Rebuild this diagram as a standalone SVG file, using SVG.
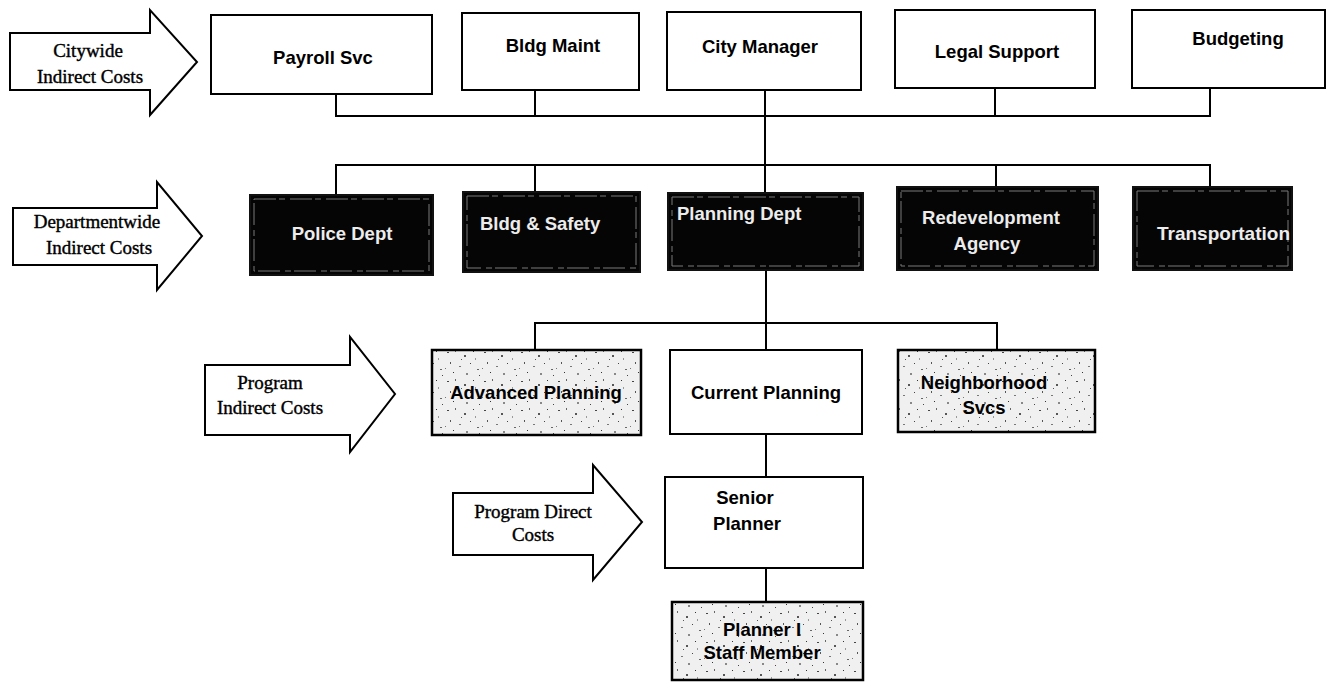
<svg xmlns="http://www.w3.org/2000/svg" width="1335" height="683" viewBox="0 0 1335 683">
<style>
.box{fill:#fff;stroke:#000;stroke-width:2}
.dark{fill:#050505;stroke:#111;stroke-width:2}
.inner{fill:none;stroke:#7a7a7a;stroke-width:1;stroke-dasharray:22 3 6 5}
.spk{fill:url(#speckle);stroke:#000;stroke-width:2.5}
.arrow{fill:#fff;stroke:#000;stroke-width:2}
.lbl{font-family:"Liberation Sans",Arial,sans-serif;font-weight:bold;font-size:18.5px;fill:#000;text-anchor:middle}
.wl{font-family:"Liberation Sans",Arial,sans-serif;font-weight:bold;font-size:18.5px;fill:#ececec}
.al{font-family:"Liberation Serif","Times New Roman",serif;font-size:19px;fill:#000;text-anchor:middle;stroke:#000;stroke-width:0.4}
.conn{fill:none;stroke:#000;stroke-width:2}
</style>
<defs>
<pattern id="speckle" width="37" height="29" patternUnits="userSpaceOnUse">
<rect width="37" height="29" fill="#f0f0f0"/>
<rect x="3" y="4" width="2" height="1" fill="#444"/>
<rect x="11" y="2" width="1" height="2" fill="#666"/>
<rect x="20" y="7" width="2" height="2" fill="#555"/>
<rect x="29" y="3" width="1" height="1" fill="#333"/>
<rect x="6" y="14" width="1" height="2" fill="#555"/>
<rect x="15" y="18" width="2" height="1" fill="#777"/>
<rect x="26" y="15" width="1" height="1" fill="#444"/>
<rect x="33" y="21" width="2" height="1" fill="#666"/>
<rect x="9" y="24" width="1" height="1" fill="#333"/>
<rect x="22" y="25" width="2" height="2" fill="#888"/>
<rect x="31" y="10" width="1" height="2" fill="#999"/>
<rect x="1" y="20" width="1" height="1" fill="#777"/>
<rect x="17" y="11" width="1" height="1" fill="#555"/>
<rect x="35" y="27" width="1" height="1" fill="#444"/>
</pattern>
</defs>

<g id="connectors">
<path class="conn" d="M336,94 V116 H1210 V88"/>
<path class="conn" d="M535,90 V116"/>
<path class="conn" d="M995,88 V116"/>
<path class="conn" d="M765,90 V193"/>
<path class="conn" d="M336,195 V165 H1210 V187"/>
<path class="conn" d="M535,165 V192"/>
<path class="conn" d="M996,165 V187"/>
<path class="conn" d="M766,270 V350"/>
<path class="conn" d="M535,350 V323 H997 V350"/>
<path class="conn" d="M766,435 V477"/>
<path class="conn" d="M766,568 V602"/>
</g>

<g id="arrow-citywide">
<polygon class="arrow" points="10,33 150,33 150,10 197,62 150,115 150,90 10,90"/>
<text class="al" x="88" y="57">Citywide</text>
<text class="al" x="90" y="83">Indirect Costs</text>
</g>
<g id="arrow-departmentwide">
<polygon class="arrow" points="13,208 157,208 157,182 202,236 157,290 157,265 13,265"/>
<text class="al" x="97" y="228">Departmentwide</text>
<text class="al" x="99" y="254">Indirect Costs</text>
</g>
<g id="arrow-program-indirect">
<polygon class="arrow" points="205,365 350,365 350,337 395,394 350,452 350,435 205,435"/>
<text class="al" x="270" y="389">Program</text>
<text class="al" x="270" y="414">Indirect Costs</text>
</g>
<g id="arrow-program-direct">
<polygon class="arrow" points="453,493 593,493 593,465 642,522 593,580 593,555 453,555"/>
<text class="al" x="533" y="518">Program Direct</text>
<text class="al" x="533" y="541">Costs</text>
</g>

<g id="payroll-svc"><rect class="box" x="211" y="15" width="221" height="79"/><text class="lbl" x="323" y="64">Payroll Svc</text></g>
<g id="bldg-maint"><rect class="box" x="462" y="13" width="177" height="77"/><text class="lbl" x="553" y="52">Bldg Maint</text></g>
<g id="city-manager"><rect class="box" x="667" y="12" width="194" height="78"/><text class="lbl" x="760" y="53">City Manager</text></g>
<g id="legal-support"><rect class="box" x="895" y="10" width="200" height="78"/><text class="lbl" x="997" y="58">Legal Support</text></g>
<g id="budgeting"><rect class="box" x="1132" y="10" width="193" height="78"/><text class="lbl" x="1238" y="45">Budgeting</text></g>

<g id="police-dept"><rect class="dark" x="250" y="195" width="183" height="80"/><rect class="inner" x="254" y="199" width="175" height="72"/><text class="wl" x="342" y="240" text-anchor="middle">Police Dept</text></g>
<g id="bldg-safety"><rect class="dark" x="463" y="192" width="177" height="80"/><rect class="inner" x="467" y="196" width="169" height="72"/><text class="wl" x="480" y="230">Bldg &amp; Safety</text></g>
<g id="planning-dept"><rect class="dark" x="668" y="193" width="195" height="77"/><rect class="inner" x="672" y="197" width="187" height="69"/><text class="wl" x="677" y="220">Planning Dept</text></g>
<g id="redevelopment-agency"><rect class="dark" x="897" y="187" width="201" height="83"/><rect class="inner" x="901" y="191" width="193" height="75"/><text class="wl" x="991" y="224" text-anchor="middle">Redevelopment</text><text class="wl" x="987" y="250" text-anchor="middle">Agency</text></g>
<g id="transportation"><rect class="dark" x="1133" y="187" width="159" height="83"/><rect class="inner" x="1137" y="191" width="151" height="75"/><text class="wl" x="1157" y="240" textLength="133" lengthAdjust="spacingAndGlyphs">Transportation</text></g>

<g id="advanced-planning"><rect class="spk" x="432" y="350" width="209" height="85"/><text class="lbl" x="536" y="399">Advanced Planning</text></g>
<g id="current-planning"><rect class="box" x="670" y="350" width="192" height="84"/><text class="lbl" x="766" y="399">Current Planning</text></g>
<g id="neighborhood-svcs"><rect class="spk" x="898" y="350" width="197" height="82"/><text class="lbl" x="984" y="389">Neighborhood</text><text class="lbl" x="984" y="414">Svcs</text></g>

<g id="senior-planner"><rect class="box" x="665" y="477" width="198" height="91"/><text class="lbl" x="745" y="504">Senior</text><text class="lbl" x="747" y="530">Planner</text></g>
<g id="planner-i"><rect class="spk" x="672" y="602" width="191" height="78"/><text class="lbl" x="762" y="636">Planner I</text><text class="lbl" x="762" y="659">Staff Member</text></g>
</svg>
